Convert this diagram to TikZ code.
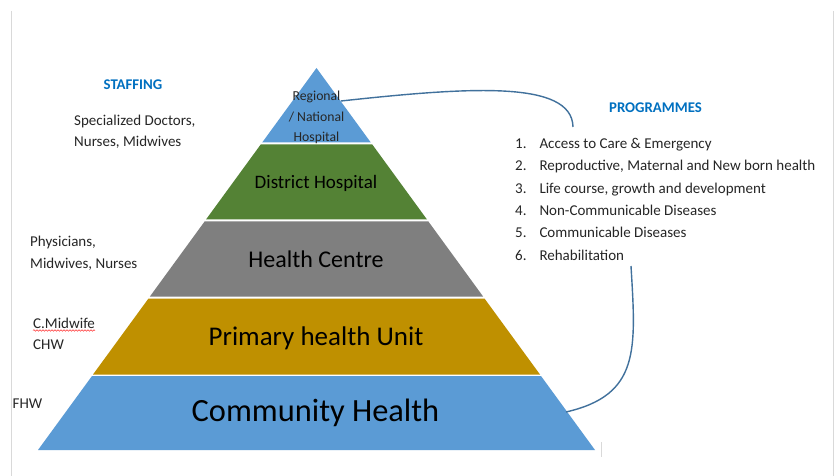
\documentclass[tikz,border=0pt]{standalone}
\usepackage{fontspec}
\setmainfont{Carlito}
\usetikzlibrary{decorations.pathmorphing}
\definecolor{pblue}{HTML}{5B9BD5}
\definecolor{pgreen}{HTML}{548235}
\definecolor{pgrey}{HTML}{7F7F7F}
\definecolor{pgold}{HTML}{BF9000}
\definecolor{headblue}{HTML}{0070C0}
\definecolor{curveblue}{HTML}{41719C}
\definecolor{txt}{HTML}{262626}
\definecolor{frame}{HTML}{D9D9D9}
\tikzset{
  layer/.style={draw=none},
  lbl/.style={inner sep=0pt, text=black},
  side/.style={inner sep=0pt, anchor=base west, text=txt, font=\fontsize{15}{17}\selectfont},
  head/.style={inner sep=0pt, anchor=base, text=headblue, font=\bfseries\fontsize{14.8}{17}\selectfont},
  conn/.style={draw=curveblue, line width=1.4pt},
}
\begin{document}
\begin{tikzpicture}[x=1pt,y=-1pt]
\useasboundingbox (0,0) rectangle (836,476);
\fill[white] (0,0) rectangle (836,476);
% faint frame lines
\draw[frame, line width=0.8pt] (11.5,11) -- (11.5,476);
\draw[frame, line width=0.8pt] (833,11) -- (833,476);
\draw[frame, line width=0.8pt] (601,442) -- (601,457);
% pyramid layers
\fill[pblue] (316.5,68) -- (370.8,142.5) -- (262.2,142.5) -- cycle;
\fill[pgreen] (260.7,144.5) -- (372.3,144.5) -- (427.0,219.5) -- (206.0,219.5) -- cycle;
\fill[pgrey] (204.6,221.5) -- (428.4,221.5) -- (483.1,296.5) -- (149.9,296.5) -- cycle;
\fill[pgold] (148.5,298.5) -- (484.5,298.5) -- (540.0,374.5) -- (93.0,374.5) -- cycle;
\fill[pblue] (92.0,376) -- (541.0,376) -- (595.0,450) -- (38.0,450) -- cycle;
% layer labels
\node[lbl, anchor=base, text=txt, font=\fontsize{13.7}{16}\selectfont] (reg1) at (316.5,100.7) {Regional};
\node[lbl, anchor=base, text=txt, font=\fontsize{13.7}{16}\selectfont] (reg2) at (316.5,121.5) {/ National};
\node[lbl, anchor=base, text=txt, font=\fontsize{13.7}{16}\selectfont] (reg3) at (316.5,141.8) {Hospital};
\node[lbl, anchor=base, font=\fontsize{19}{22}\selectfont] (dist) at (316,188.3) {District Hospital};
\node[lbl, anchor=base, font=\fontsize{24}{28}\selectfont] (hc) at (316,267.3) {Health Centre};
\node[lbl, anchor=base, font=\fontsize{27}{32}\selectfont] (phu) at (316,345) {Primary health Unit};
\node[lbl, anchor=base, font=\fontsize{32.4}{38}\selectfont] (ch) at (315.5,421.7) {Community Health};
% staffing
\node[head] (staff) at (133,90) {STAFFING};
\node[side] (s1) at (74,126) {Specialized Doctors,};
\node[side] (s2) at (74,147) {Nurses, Midwives};
\node[side] (s3) at (30,247) {Physicians,};
\node[side] (s4) at (30,268) {Midwives, Nurses};
\node[side] (s5) at (33,328) {C.Midwife};
\node[side] (s6) at (33,349) {CHW};
\node[side] (s7) at (12.5,408) {FHW};
\draw[red!80, line width=0.5pt, decorate, decoration={snake, amplitude=0.8pt, segment length=3pt}]
  ([yshift=-2.5pt]s5.base west) -- ([yshift=-2.5pt]s5.base east);
% programmes
\node[head] (prog) at (655.5,112.7) {PROGRAMMES};
\node[side] (n1) at (515,148.3) {1.};
\node[side] (p1) at (539.3,148.3) {Access to Care \& Emergency};
\node[side] (n2) at (515,170.7) {2.};
\node[side] (p2) at (539.3,170.7) {Reproductive, Maternal and New born health};
\node[side] (n3) at (515,193.1) {3.};
\node[side] (p3) at (539.3,193.1) {Life course, growth and development};
\node[side] (n4) at (515,215.5) {4.};
\node[side] (p4) at (539.3,215.5) {Non-Communicable Diseases};
\node[side] (n5) at (515,237.9) {5.};
\node[side] (p5) at (539.3,237.9) {Communicable Diseases};
\node[side] (n6) at (515,260.3) {6.};
\node[side] (p6) at (539.3,260.3) {Rehabilitation};
% connectors
\coordinate (c1s) at (341,101);
\coordinate (c1e) at (573,127);
\coordinate (c2s) at (631,266);
\coordinate (c2e) at (566,412);
\draw[conn] (c1s) .. controls (470,87) and (572,80) .. (c1e);
\draw[conn] (c2s) .. controls (636,350) and (640,395) .. (c2e);
\end{tikzpicture}
\end{document}
